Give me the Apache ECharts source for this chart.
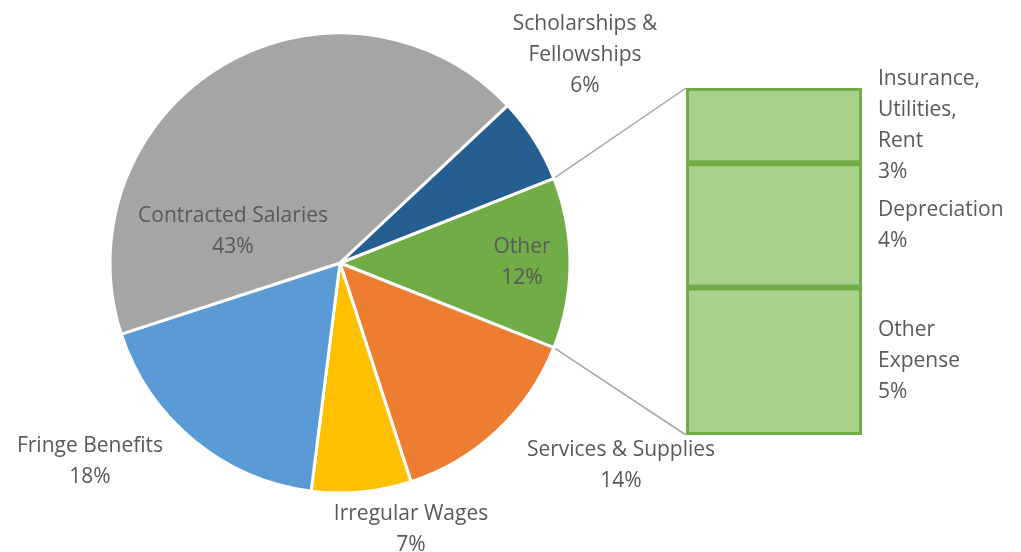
<!DOCTYPE html>
<html>
<head>
<meta charset="utf-8">
<script src="https://cdn.jsdelivr.net/npm/echarts@6/dist/echarts.min.js"></script>
<style>
    html, body { margin: 0; padding: 0; background: #fff; }
    #chart { width: 1021px; height: 552px; }
</style>
</head>
<body>
<div id="chart"></div>
<script>
// pie slices, going clockwise from the "Other" wedge
var pieNames = ['Other', 'Services & Supplies', 'Irregular Wages', 'Fringe Benefits', 'Contracted Salaries', 'Scholarships &\nFellowships'];
var pieValues = [12, 14, 7, 18, 43, 6];
var pieColors = ['#70AD47', '#ED7D31', '#FFC000', '#5B9BD5', '#A5A5A5', '#255E91'];

// split of "Other", bottom to top
var otherNames = ['Other\nExpense', 'Depreciation', 'Insurance,\nUtilities,\nRent'];
var otherValues = [5.1, 4.3, 2.6];

// where the pie labels sit (centre of each text block)
var pieLabelPos = [[522, 263], [621, 466], [411, 530], [90, 462], [233, 232], [585, 55]];

var textColor = '#595959';
var fontFamily = '"Open Sans", sans-serif';
var fontSize = 21;
var pieCenter = [340, 263];
var pieRadius = 230;
var barW = 176;

var pieTotal = pieValues.reduce(function (a, b) { return a + b; }, 0);
var otherTotal = otherValues.reduce(function (a, b) { return a + b; }, 0);
var startAngle = pieValues[0] / pieTotal * 360 / 2;

var myChart = echarts.init(document.getElementById('chart'));

var barSeries = otherNames.map(function (name, i) {
    return {
        name: name,
        type: 'bar',
        stack: 'other',
        barWidth: barW,
        data: [otherValues[i]],
        // green backdrop so the gaps between stacked borders stay green
        showBackground: i === 0,
        backgroundStyle: { color: '#70AD47' },
        itemStyle: {
            color: '#A9D18E',
            borderColor: '#70AD47',
            borderWidth: 3
        },
        label: {
            show: true,
            position: 'right',
            distance: 16,
            align: 'left',
            color: textColor,
            fontFamily: fontFamily,
            fontSize: fontSize,
            lineHeight: 31,
            formatter: function (p) {
                return name + '\n' + Math.round(p.value) + '%';
            }
        },
        silent: true
    };
});

var option = {
    animation: false,
    grid: [{
        left: 686,
        top: 88,
        width: barW,
        height: 347
    }],
    xAxis: [{
        type: 'category',
        data: ['Other'],
        show: false
    }],
    yAxis: [{
        type: 'value',
        min: 0,
        max: otherTotal,
        show: false
    }],
    series: [{
        type: 'pie',
        center: pieCenter,
        radius: pieRadius,
        startAngle: startAngle,
        clockwise: true,
        silent: true,
        itemStyle: {
            borderColor: '#fff',
            borderWidth: 3
        },
        label: {
            show: true,
            position: 'inside',
            color: textColor,
            fontFamily: fontFamily,
            fontSize: fontSize,
            lineHeight: 31,
            align: 'center',
            formatter: function (p) {
                return p.name + '\n' + Math.round(p.percent) + '%';
            }
        },
        labelLine: { show: false },
        labelLayout: function (params) {
            var pos = pieLabelPos[params.dataIndex];
            return { x: pos[0], y: pos[1], align: 'center', verticalAlign: 'middle' };
        },
        data: pieNames.map(function (name, i) {
            return { name: name, value: pieValues[i], itemStyle: { color: pieColors[i] } };
        })
    }].concat(barSeries)
};

myChart.setOption(option);

// connector lines from the "Other" wedge edges to the bar corners
var topPt = myChart.convertToPixel({ gridIndex: 0 }, [0, otherTotal]);
var botPt = myChart.convertToPixel({ gridIndex: 0 }, [0, 0]);
var barLeft = topPt[0] - barW / 2;
var a = startAngle * Math.PI / 180;
var edgeTop = [pieCenter[0] + pieRadius * Math.cos(a), pieCenter[1] - pieRadius * Math.sin(a)];
var edgeBot = [pieCenter[0] + pieRadius * Math.cos(a), pieCenter[1] + pieRadius * Math.sin(a)];

myChart.setOption({
    graphic: [{
        type: 'line',
        shape: { x1: edgeTop[0], y1: edgeTop[1], x2: barLeft, y2: topPt[1] },
        style: { stroke: '#A6A6A6', lineWidth: 1.5 },
        z: 0
    }, {
        type: 'line',
        shape: { x1: edgeBot[0], y1: edgeBot[1], x2: barLeft, y2: botPt[1] },
        style: { stroke: '#A6A6A6', lineWidth: 1.5 },
        z: 0
    }]
});
</script>
</body>
</html>
